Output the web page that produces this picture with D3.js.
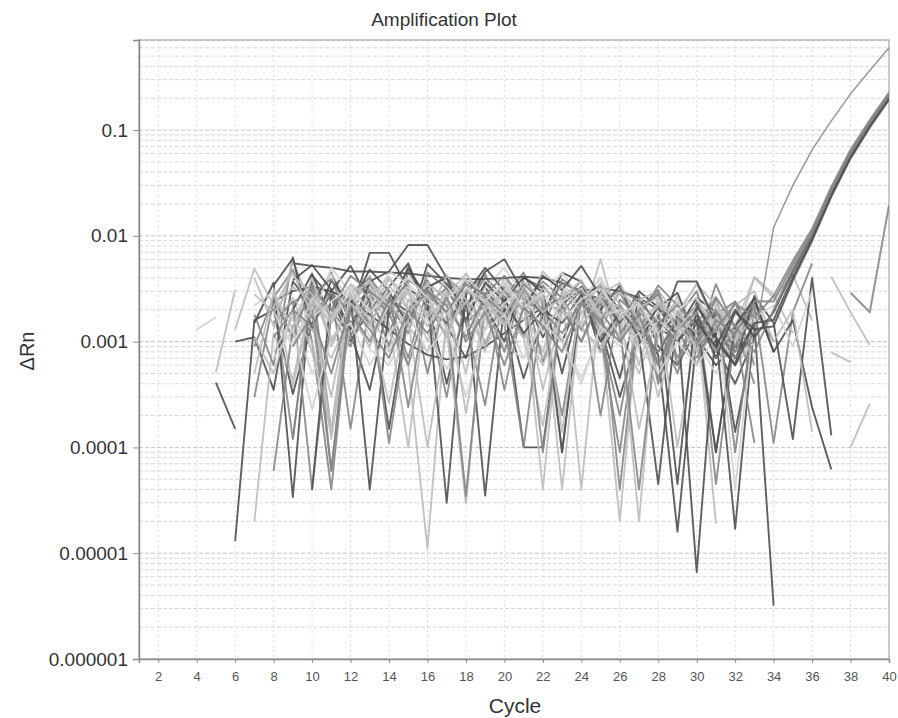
<!DOCTYPE html>
<html>
<head>
<meta charset="utf-8">
<script src="https://cdn.jsdelivr.net/npm/d3@7"></script>
<style>
body { margin: 0; background: #fff; }
text { font-family: Arial, "Liberation Sans", sans-serif; }
</style>
</head>
<body>
<div id="chart-area"></div>
<script>

// tick values / labels
const xTicks = [2, 4, 6, 8, 10, 12, 14, 16, 18, 20, 22, 24, 26, 28, 30, 32, 34, 36, 38, 40];
const yTicks = [1e-6, 1e-5, 1e-4, 1e-3, 1e-2, 1e-1];
const yTickLabels = ["0.000001", "0.00001", "0.0001", "0.001", "0.01", "0.1"];

// baseline (non amplified) wells: first cycle + ΔRn per cycle
const baselineStart = [6, 6, 7, 5, 4, 5, 6, 7, 7, 7, 7, 7, 7, 8, 9, 8, 8, 8, 8, 7, 8, 9, 8, 9, 10, 9, 8, 9, 9, 10, 10, 20, 24, 26, 28, 27, 29, 30, 31, 28, 37, 37, 38,
    7, 8, 8, 9, 8, 9, 8, 10, 9, 7];
const baselineDeltaRn = [
    [1.0e-3, 1.1e-3, 3.5e-4, 3.7e-3, 2.2e-3, 4.5e-3, 1.8e-3, 6.9e-3, 6.9e-3, 3.1e-3, 2.5e-3, 4.0e-4, 2.2e-3, 3.3e-3, 1.6e-3, 2.9e-3, 1.1e-3, 2.4e-3, 3.1e-3, 8.0e-4, 1.6e-3, 2.4e-3, 9.0e-4, 6.0e-4, 1.3e-3, 9.0e-4, 4.0e-4, 1.1e-3],
    [1.3e-5, 1.6e-3, 2.0e-3, 3.2e-4, 1.5e-3, 2.8e-3, 1.2e-3, 3.5e-4, 2.6e-3, 1.9e-3, 3.8e-3, 1.4e-3, 7.0e-4, 2.9e-3, 2.0e-3, 4.5e-4, 1.7e-3, 1.0e-3, 2.7e-3, 1.4e-3, 3.0e-4, 1.2e-3, 7.5e-4, 1.6e-5, 1.1e-3, 6.0e-4, 9.0e-4],
    [2.0e-5, 1.2e-3, 4.4e-4, 2.7e-3, 1.1e-3, 9.0e-4, 3.2e-3, 1.3e-3, 6.0e-4, 1.1e-5, 1.9e-3, 2.2e-3, 8.0e-4, 3.7e-3, 1.2e-3, 6.0e-4, 2.0e-3, 1.5e-3, 6.0e-3, 1.3e-3, 5.0e-4, 1.7e-3, 1.0e-3, 1.8e-3, 1.9e-5],
    [5.1e-4, 3.1e-3],
    [1.3e-3, 1.7e-3],
    [4.1e-4, 1.5e-4],
    [1.3e-3, 4.9e-3, 2.2e-3, 1.6e-3, 3.4e-3, 9.0e-4, 2.3e-3, 4.2e-3, 1.8e-3, 2.9e-3, 1.0e-3, 3.6e-3, 2.5e-3, 1.3e-3, 4.1e-3, 2.0e-3, 8.0e-4, 3.0e-3, 2.3e-3, 1.2e-3, 3.3e-3, 1.5e-3, 6.0e-4, 1.9e-3, 1.1e-3, 2.6e-3, 7.0e-4],
    [1.8e-3, 6.0e-4, 6.3e-3, 1.0e-3, 4.0e-5, 2.4e-3, 3.5e-3, 1.7e-3, 5.2e-3, 2.0e-3, 3.0e-4, 2.8e-3, 4.4e-3, 1.5e-3, 3.5e-3, 6.5e-4, 2.3e-3, 3.8e-3, 1.2e-3, 2.0e-4, 1.9e-3, 1.4e-3, 5.0e-4, 2.3e-3, 1.6e-3, 8.0e-4, 2.0e-3],
    [3.0e-4, 2.5e-3, 1.2e-4, 3.8e-3, 1.4e-4, 2.1e-3, 3.0e-3, 9.0e-4, 4.6e-3, 2.3e-3, 1.1e-3, 3.9e-3, 9.5e-4, 2.6e-3, 4.5e-3, 1.8e-3, 2.0e-4, 2.5e-3, 3.2e-3, 1.0e-3, 2.8e-3, 4.0e-4, 1.5e-3, 2.2e-3, 4.5e-5, 1.2e-3],
    [1.5e-3, 3.6e-3, 3.4e-5, 4.2e-3, 2.6e-3, 1.0e-3, 2.0e-3, 3.3e-3, 5.5e-3, 2.0e-3, 1.5e-3, 2.7e-3, 3.5e-5, 2.4e-3, 1.0e-4, 1.0e-4, 2.2e-3, 3.3e-3, 1.7e-3, 4.5e-4, 2.6e-3, 1.4e-3, 1.6e-3, 6.6e-6, 1.4e-3],
    [4.0e-3, 1.4e-3, 2.6e-3, 8.0e-4, 1.4e-4, 3.4e-3, 1.9e-3, 2.8e-3, 1.5e-3, 3.7e-3, 2.4e-3, 3.0e-5, 2.9e-3, 1.8e-3, 3.6e-3, 2.2e-3, 4.0e-5, 2.5e-3, 1.4e-3, 2.0e-5, 2.0e-3, 1.1e-3, 2.7e-3, 9.0e-4, 2.1e-3, 1.2e-3, 2.2e-3],
    [9.0e-4, 2.6e-3, 4.8e-3, 1.7e-3, 3.1e-3, 1.5e-4, 2.4e-3, 1.2e-3, 3.6e-3, 5.0e-4, 2.9e-3, 2.0e-3, 4.1e-3, 2.6e-3, 1.1e-3, 3.4e-3, 2.0e-3, 1.0e-3, 2.5e-3, 4.0e-5, 1.9e-3, 2.8e-3, 7.0e-4, 1.5e-3, 9.0e-4, 2.4e-3, 6.0e-4],
    [2.2e-3, 3.0e-3, 1.0e-3, 2.0e-3, 4.4e-3, 2.4e-3, 1.7e-3, 3.9e-3, 2.8e-3, 1.6e-3, 4.3e-3, 2.1e-3, 3.2e-3, 5.0e-3, 2.7e-3, 1.9e-3, 3.5e-3, 2.3e-3, 4.1e-3, 1.8e-3, 1.0e-3, 2.6e-3, 1.9e-3, 3.5e-3, 1.6e-3, 2.4e-3, 1.3e-3],
    [2.4e-3, 3.0e-3, 3.3e-3, 3.0e-3, 2.4e-3, 1.8e-3, 1.3e-3, 9.5e-4, 7.5e-4, 6.8e-4, 7.2e-4, 9.0e-4, 1.2e-3, 1.6e-3, 2.1e-3, 2.6e-3, 3.0e-3, 3.2e-3, 3.0e-3, 2.6e-3, 2.0e-3, 1.5e-3, 1.2e-3, 1.0e-3, 9.0e-4, 1.0e-3],
    [5.5e-3, 5.2e-3, 5.0e-3, 4.6e-3, 4.6e-3, 4.5e-3, 4.4e-3, 4.2e-3, 4.0e-3, 3.9e-3, 3.9e-3, 4.0e-3, 4.1e-3, 4.0e-3, 3.6e-3, 3.0e-3, 2.5e-3, 2.0e-3, 1.6e-3, 1.3e-3, 1.1e-3],
    [1.3e-3, 5.8e-3, 2.1e-3, 1.2e-4, 2.2e-3, 3.7e-3, 1.5e-3, 1.0e-4, 3.1e-3, 2.2e-3, 5.0e-4, 3.8e-3, 1.7e-3, 2.4e-3, 4.0e-5, 2.9e-3, 1.8e-3, 3.6e-3, 2.3e-3, 6.0e-4, 2.6e-3, 1.5e-3, 9.0e-4, 2.2e-3, 1.0e-3, 6.0e-4],
    [2.6e-3, 1.1e-3, 3.4e-3, 6.0e-5, 2.9e-3, 4.0e-3, 2.3e-3, 1.2e-3, 4.5e-3, 3.2e-3, 1.5e-3, 2.5e-4, 3.4e-3, 2.6e-3, 1.3e-3, 3.9e-3, 2.8e-3, 1.2e-3, 9.0e-5, 2.0e-3, 2.9e-3, 1.3e-3, 6.0e-4, 1.8e-3, 2.4e-3, 1.1e-3],
    [3.4e-3, 6.1e-3, 1.3e-3, 3.8e-3, 2.2e-3, 4.8e-3, 3.0e-3, 1.4e-3, 5.4e-3, 3.5e-3, 2.1e-3, 4.6e-3, 6.0e-3, 2.9e-3, 1.8e-3, 4.5e-3, 3.7e-3, 2.0e-3, 3.4e-3, 1.2e-3, 2.1e-3, 2.9e-3, 1.0e-3, 1.9e-3, 1.4e-3, 2.4e-3, 8.0e-4],
    [8.0e-4, 1.7e-3, 5.0e-4, 1.0e-3, 2.2e-3, 8.5e-4, 6.0e-4, 1.5e-3, 1.2e-3, 5.5e-4, 1.3e-3, 2.0e-3, 9.0e-4, 7.0e-4, 1.6e-3, 1.1e-3, 4.5e-4, 1.2e-3, 1.8e-3, 8.0e-4, 6.0e-4, 1.3e-3, 1.0e-3, 5.0e-4, 1.2e-3, 7.0e-4],
    [1.1e-3, 5.0e-4, 1.9e-3, 1.3e-3, 7.0e-4, 1.8e-3, 9.0e-4, 2.3e-3, 1.4e-3, 8.0e-4, 2.5e-3, 1.6e-3, 1.0e-3, 2.2e-3, 1.2e-3, 7.0e-4, 2.0e-3, 1.3e-3, 9.0e-4, 1.8e-3, 1.1e-3, 6.0e-4, 1.5e-3, 9.0e-4, 1.4e-3, 6.5e-4, 1.1e-3],
    [1.5e-3, 2.4e-3, 4.0e-5, 1.8e-3, 9.0e-4, 2.7e-3, 1.9e-3, 6.0e-4, 2.3e-3, 3.2e-3, 1.5e-3, 2.2e-3, 8.0e-4, 3.5e-3, 2.4e-3, 9.0e-5, 2.7e-3, 1.9e-3, 1.1e-3, 2.6e-3, 4.5e-4, 1.8e-3, 9.0e-4, 3.5e-3, 1.3e-3, 2.0e-3, 1.0e-3],
    [2.0e-3, 4.4e-3, 1.6e-3, 2.7e-3, 4.0e-5, 2.1e-3, 4.9e-3, 2.6e-3, 3.0e-5, 3.1e-3, 2.2e-3, 1.0e-3, 4.0e-3, 3.2e-3, 9.0e-5, 2.9e-3, 1.6e-3, 2.2e-3, 1.1e-3, 4.5e-5, 1.9e-3, 8.0e-4, 1.2e-3, 1.7e-5, 1.5e-3],
    [3.2e-3, 3.8e-4, 2.5e-3, 1.4e-4, 3.0e-3, 2.0e-3, 3.9e-3, 2.4e-3, 3.5e-3, 1.3e-3, 3.0e-5, 2.6e-3, 3.4e-3, 1.9e-3, 4.6e-3, 3.0e-3, 4.0e-5, 2.8e-3, 1.5e-3, 2.0e-5, 2.2e-3, 1.0e-4, 1.3e-3, 2.4e-3, 1.0e-3, 1.6e-3],
    [1.2e-4, 3.3e-3, 2.0e-3, 1.1e-3, 3.6e-3, 2.3e-3, 7.0e-4, 3.2e-3, 4.2e-3, 2.0e-3, 2.8e-3, 3.5e-4, 2.3e-3, 3.7e-3, 2.6e-3, 1.3e-3, 3.0e-3, 1.6e-3, 2.5e-3, 6.0e-4, 1.7e-3, 3.0e-3, 8.0e-4, 1.4e-3, 4.0e-4],
    [4.0e-5, 3.0e-3, 5.2e-3, 2.4e-3, 1.5e-4, 2.0e-3, 3.3e-3, 4.0e-3, 1.6e-3, 3.6e-3, 2.4e-3, 4.1e-3, 2.9e-3, 5.0e-4, 2.7e-3, 3.4e-3, 2.0e-3, 9.0e-4, 2.3e-3, 1.3e-3, 2.6e-3, 1.9e-3, 1.4e-4, 1.2e-3],
    [2.6e-3, 1.6e-3, 5.0e-3, 2.9e-3, 2.0e-3, 4.6e-3, 3.5e-3, 2.3e-3, 1.6e-3, 4.4e-3, 2.6e-3, 3.5e-3, 1.9e-3, 2.8e-3, 4.5e-3, 2.5e-3, 3.9e-3, 1.3e-3, 2.4e-3, 3.0e-3, 1.2e-3, 1.8e-3, 2.7e-3, 1.4e-3, 9.0e-4],
    [6.0e-5, 1.4e-3, 2.8e-3, 3.9e-3, 1.5e-3, 2.5e-3, 1.1e-4, 1.7e-3, 3.1e-3, 1.8e-3, 3.8e-3, 2.7e-3, 1.5e-3, 1.0e-4, 2.4e-3, 1.9e-3, 3.1e-3, 2.0e-4, 2.5e-3, 1.7e-3, 3.4e-3, 2.2e-3, 1.5e-3, 2.6e-3, 9.0e-5, 2.0e-3],
    [1.6e-3, 1.0e-3, 1.4e-4, 1.4e-3, 2.0e-3, 8.0e-4, 1.6e-3, 1.0e-4, 1.3e-3, 2.4e-3, 9.0e-4, 1.7e-3, 1.1e-3, 1.6e-4, 2.0e-3, 1.4e-3, 8.0e-4, 1.9e-3, 1.5e-4, 1.1e-3, 1.6e-3, 7.0e-4, 1.3e-3, 6.0e-4, 1.0e-3],
    [3.8e-3, 5.3e-3, 3.1e-3, 1.3e-3, 3.7e-3, 4.6e-3, 8.2e-3, 8.2e-3, 4.0e-3, 2.8e-3, 5.0e-3, 3.0e-3, 2.0e-3, 4.2e-3, 3.1e-3, 5.2e-3, 2.7e-3, 1.5e-3, 3.0e-3, 2.1e-3, 1.1e-3],
    [2.0e-3, 6.0e-5, 2.3e-3, 1.5e-3, 3.0e-3, 2.4e-4, 2.7e-3, 1.9e-3, 3.5e-5, 2.4e-3, 1.6e-3, 3.3e-3, 9.0e-5, 2.2e-3, 1.0e-3, 2.7e-3, 1.4e-3, 4.0e-5, 1.6e-3, 1.0e-3, 2.0e-3, 9.0e-5, 1.3e-3, 1.1e-4],
    [3.2e-3, 1.8e-3, 2.5e-3, 3.8e-3, 2.1e-3, 3.0e-3, 1.8e-3, 4.2e-3, 2.5e-3, 1.6e-3, 3.1e-3, 2.0e-3, 2.7e-3, 1.4e-4, 2.8e-3, 1.6e-3, 2.3e-3, 1.2e-3, 1.8e-3, 2.2e-3, 8.0e-4, 1.6e-3, 1.1e-3, 2.0e-3],
    [2.5e-3, 1.2e-3, 2.0e-3, 1.5e-3, 2.8e-3, 1.0e-3, 1.9e-3, 1.3e-3, 8.0e-4, 1.6e-3, 1.0e-3, 1.4e-3, 7.0e-4, 1.5e-3, 3.2e-6],
    [2.1e-3, 3.5e-3, 1.6e-3, 2.5e-3, 3.0e-3, 1.8e-3, 3.5e-3, 2.2e-3, 1.4e-3, 4.0e-3, 2.6e-3, 4.3e-3, 1.6e-3],
    [1.2e-3, 2.0e-3, 3.1e-3, 6.0e-4, 2.4e-3, 1.5e-3, 9.0e-4, 2.2e-3, 1.1e-4, 1.9e-3, 5.5e-3],
    [1.8e-3, 4.5e-5, 2.3e-3, 1.0e-3, 6.0e-4, 2.7e-3, 1.5e-3, 1.2e-4, 4.0e-3, 1.3e-4],
    [2.0e-3, 1.3e-3, 2.4e-3, 8.0e-4, 2.2e-3, 1.0e-3, 4.1e-3, 2.8e-3, 1.2e-3],
    [1.0e-3, 1.6e-3, 9.0e-5, 1.4e-3, 2.6e-3, 8.0e-4, 1.6e-3, 2.4e-4, 6.2e-5],
    [3.5e-3, 1.4e-3, 2.2e-3, 3.0e-3, 1.0e-3, 2.0e-3, 1.4e-4],
    [2.4e-3, 4.0e-5, 1.7e-3, 2.2e-3, 9.0e-4, 3.0e-3],
    [1.2e-3, 3.7e-3, 3.7e-3, 1.5e-3],
    [4.1e-3, 1.9e-3, 9.3e-4],
    [7.9e-4, 6.4e-4],
    [1.0e-4, 2.6e-4],
    [2.8e-3, 1.9e-3, 3.3e-3, 2.4e-3, 1.5e-3, 2.9e-3, 3.6e-3, 2.2e-3, 3.0e-3, 1.7e-3, 2.6e-3, 3.4e-3, 2.0e-3, 2.9e-3, 1.6e-3, 3.2e-3, 2.4e-3, 1.4e-3, 2.7e-3, 2.1e-3, 1.3e-3, 2.2e-3, 1.6e-3, 1.0e-3, 1.7e-3, 1.2e-3],
    [1.9e-3, 9.0e-4, 2.6e-3, 1.6e-3, 3.1e-3, 1.1e-3, 2.2e-3, 3.3e-3, 1.4e-3, 2.5e-3, 3.9e-3, 1.5e-3, 2.3e-3, 3.1e-3, 1.2e-3, 2.4e-3, 3.2e-3, 1.7e-3, 2.0e-3, 9.0e-4, 1.6e-3, 1.1e-3, 1.9e-3, 8.0e-4, 1.3e-3],
    [1.1e-3, 2.0e-3, 1.4e-3, 2.9e-3, 1.9e-3, 1.0e-3, 2.5e-3, 1.7e-3, 3.0e-3, 2.2e-3, 1.1e-3, 2.7e-3, 1.8e-3, 3.1e-3, 2.0e-3, 1.2e-3, 2.4e-3, 1.6e-3, 2.9e-3, 1.4e-3, 8.0e-4, 1.7e-3, 1.0e-3, 1.5e-3, 7.0e-4, 1.2e-3],
    [4.2e-3, 2.8e-3, 1.7e-3, 3.5e-3, 2.6e-3, 4.1e-3, 2.1e-3, 3.4e-3, 2.7e-3, 4.4e-3, 2.3e-3, 1.8e-3, 3.7e-3, 2.5e-3, 3.3e-3, 1.9e-3, 2.8e-3, 3.6e-3, 1.5e-3, 2.3e-3, 1.8e-3, 1.2e-3, 2.0e-3, 1.4e-3],
    [7.0e-4, 1.3e-3, 2.3e-4, 1.1e-3, 1.5e-3, 6.0e-4, 1.2e-3, 1.9e-3, 8.0e-4, 1.4e-3, 3.0e-4, 1.3e-3, 1.8e-3, 7.0e-4, 1.5e-3, 1.0e-3, 4.0e-4, 1.4e-3, 9.0e-4, 1.2e-3, 5.0e-4, 1.0e-3, 6.0e-4, 1.1e-3],
    [2.3e-3, 3.2e-3, 2.0e-3, 4.2e-3, 3.0e-3, 2.1e-3, 3.8e-3, 2.9e-3, 1.9e-3, 3.5e-3, 2.8e-3, 4.2e-3, 2.5e-3, 1.9e-3, 3.6e-3, 2.9e-3, 2.2e-3, 3.1e-3, 2.4e-3, 1.5e-3, 2.2e-3, 1.4e-3, 1.9e-3, 1.1e-3],
    [2.1e-3, 4.5e-3, 1.8e-3, 3.0e-4, 2.7e-3, 1.6e-3, 2.6e-4, 2.5e-3, 1.4e-3, 3.0e-3, 2.1e-4, 2.2e-3, 1.5e-3, 2.8e-3, 3.5e-4, 2.0e-3, 1.4e-3, 2.6e-3, 1.1e-3, 1.7e-3, 3.0e-4, 1.4e-3, 9.0e-4, 1.6e-3],
    [1.7e-3, 2.4e-3, 3.3e-3, 1.9e-3, 2.8e-3, 4.0e-3, 2.6e-3, 1.8e-3, 3.2e-3, 2.4e-3, 3.7e-3, 2.1e-3, 2.9e-3, 1.6e-3, 2.5e-3, 3.2e-3, 1.8e-3, 2.3e-3, 1.2e-3, 2.0e-3, 2.6e-3, 1.3e-3, 1.8e-3],
    [9.0e-4, 1.8e-3, 5.0e-4, 2.2e-3, 1.3e-3, 7.0e-4, 2.0e-3, 1.2e-3, 2.6e-3, 1.0e-3, 1.9e-3, 6.0e-4, 2.1e-3, 1.4e-3, 8.0e-4, 2.3e-3, 1.5e-3, 1.0e-3, 1.8e-3, 6.0e-4, 1.3e-3, 1.9e-3, 8.0e-4, 1.2e-3],
    [5.0e-4, 2.9e-3, 1.3e-3, 4.0e-3, 1.0e-3, 2.3e-3, 1.4e-3, 3.4e-3, 2.0e-3, 2.7e-3, 1.1e-3, 3.0e-3, 2.5e-3, 1.4e-3, 3.3e-3, 1.9e-3, 2.6e-3, 3.8e-3, 1.7e-3, 2.9e-3, 2.1e-3, 2.6e-3, 1.3e-3, 2.2e-3, 1.5e-3, 1.0e-3, 1.8e-3]
];

// amplified wells (rise after cycle 33)
const ampStart = [30, 30, 30, 30, 30, 30, 30, 38];
const ampDeltaRn = [
    [1.2e-3, 2.0e-3, 8.0e-4, 1.0e-3, 1.2e-2, 3.0e-2, 6.5e-2, 1.22e-1, 2.2e-1, 3.65e-1, 6.0e-1],
    [1.5e-3, 9.0e-4, 2.0e-3, 1.1e-3, 1.9e-3, 4.6e-3, 1.02e-2, 2.6e-2, 5.9e-2, 1.15e-1, 2.10e-1],
    [7.0e-4, 1.6e-3, 1.2e-3, 2.4e-3, 2.4e-3, 5.4e-3, 1.12e-2, 2.8e-2, 6.3e-2, 1.21e-1, 2.2e-1],
    [2.2e-3, 1.1e-3, 6.0e-4, 1.5e-3, 1.6e-3, 4.1e-3, 9.4e-3, 2.45e-2, 5.6e-2, 1.1e-1, 2.0e-1],
    [1.0e-3, 2.6e-3, 1.4e-3, 8.0e-4, 2.0e-3, 5.0e-3, 1.05e-2, 2.65e-2, 6.0e-2, 1.16e-1, 2.12e-1],
    [1.8e-3, 7.0e-4, 1.9e-3, 1.3e-3, 1.4e-3, 3.8e-3, 9.0e-3, 2.35e-2, 5.4e-2, 1.06e-1, 1.94e-1],
    [9.0e-4, 1.3e-3, 2.3e-3, 1.7e-3, 2.7e-3, 5.8e-3, 1.16e-2, 2.9e-2, 6.5e-2, 1.24e-1, 2.26e-1],
    [2.9e-3, 1.9e-3, 1.95e-2]
];

// line shades (style only)
const shade = {dark: "#4f4f4f", mid: "#868686", light: "#bdbdbd", pale: "#d3d3d3"};
const baselineShade = ["dark", "dark", "light", "light", "pale", "dark", "light", "mid", "mid", "dark",
    "light", "mid", "pale", "dark", "dark", "light", "mid", "dark", "pale", "light",
    "mid", "dark", "light", "mid", "dark", "pale", "mid", "light", "dark", "mid",
    "light", "dark", "light", "mid", "dark", "light", "dark", "light", "pale", "dark",
    "light", "light", "light",
    "light", "pale", "mid", "light", "pale", "mid", "light", "pale", "mid", "light"];
const ampShade = ["mid", "dark", "mid", "dark", "mid", "dark", "mid", "mid"];

const width = 898, height = 718;
const margin = {top: 40, right: 9, bottom: 59, left: 139};

const svg = d3.select('#chart-area')
    .append('svg')
    .attr('width', width)
    .attr('height', height);

const x = d3.scaleLinear()
    .domain([1, 40])
    .range([margin.left, width - margin.right]);

const y = d3.scaleLog()
    .domain([1e-6, 0.71])
    .range([height - margin.bottom, margin.top]);

const defs = svg.append("defs");
defs.append("clipPath").attr("id", "plot-clip")
    .append("rect")
    .attr("x", margin.left)
    .attr("y", margin.top)
    .attr("width", width - margin.left - margin.right)
    .attr("height", height - margin.top - margin.bottom);
defs.append("filter").attr("id", "soft")
    .append("feGaussianBlur").attr("stdDeviation", 0.55);

// grid
const grid = svg.append("g");
grid.selectAll("line.h")
    .data(y.ticks())
    .join("line")
    .attr("class", "h")
    .attr("x1", margin.left).attr("x2", width - margin.right)
    .attr("y1", d => y(d)).attr("y2", d => y(d))
    .attr("stroke", d => yTicks.includes(d) ? "#c4c4c4" : "#d9d9d9")
    .attr("stroke-dasharray", "4,2");

grid.selectAll("line.v")
    .data(xTicks)
    .join("line")
    .attr("class", "v")
    .attr("x1", d => x(d)).attr("x2", d => x(d))
    .attr("y1", margin.top).attr("y2", height - margin.bottom)
    .attr("stroke", "#dcdcdc")
    .attr("stroke-dasharray", "2,3");

// plot frame
svg.append("rect")
    .attr("x", margin.left).attr("y", margin.top)
    .attr("width", width - margin.left - margin.right)
    .attr("height", height - margin.top - margin.bottom)
    .attr("fill", "none")
    .attr("stroke", "#b8b8b8")
    .attr("stroke-width", 1.5);

const line = d3.line()
    .defined(d => d.v != null && d.v > 0)
    .x(d => x(d.c))
    .y(d => y(d.v));

const toPoints = (start, values) => values.map((v, i) => ({c: start + i, v: v}));

const traces = svg.append("g")
    .attr("clip-path", "url(#plot-clip)")
    .append("g")
    .attr("filter", "url(#soft)");

traces.selectAll("path.base")
    .data(baselineDeltaRn)
    .join("path")
    .attr("class", "base")
    .attr("d", (d, i) => line(toPoints(baselineStart[i], d)))
    .attr("fill", "none")
    .attr("stroke", (d, i) => shade[baselineShade[i]])
    .attr("stroke-width", 1.9)
    .attr("stroke-opacity", 0.9)
    .attr("stroke-linejoin", "round");

traces.selectAll("path.amp")
    .data(ampDeltaRn)
    .join("path")
    .attr("class", "amp")
    .attr("d", (d, i) => line(toPoints(ampStart[i], d)))
    .attr("fill", "none")
    .attr("stroke", (d, i) => shade[ampShade[i]])
    .attr("stroke-width", (d, i) => i === 0 ? 1.5 : 2.1)
    .attr("stroke-opacity", 0.85)
    .attr("stroke-linejoin", "round");

// axes
const yAxis = svg.append("g")
    .attr("transform", "translate(" + margin.left + ",0)")
    .call(d3.axisLeft(y)
        .tickValues(yTicks)
        .tickFormat((d, i) => yTickLabels[i])
        .tickSize(6)
        .tickPadding(5));

const xAxis = svg.append("g")
    .attr("transform", "translate(0," + (height - margin.bottom) + ")")
    .call(d3.axisBottom(x)
        .tickValues(xTicks)
        .tickSize(4)
        .tickPadding(9));

[yAxis, xAxis].forEach(ax => {
    ax.select(".domain").attr("stroke", "#8a8a8a").attr("stroke-width", 1.5);
    ax.selectAll(".tick line").attr("stroke", "#8a8a8a");
    ax.selectAll("text").attr("fill", "#333").style("font-family", "Arial, 'Liberation Sans', sans-serif");
});
yAxis.selectAll("text").style("font-size", "19px");
xAxis.selectAll("text").style("font-size", "13px").attr("fill", "#555");

// titles
svg.append("text")
    .attr("x", 444).attr("y", 26)
    .attr("text-anchor", "middle")
    .style("font-size", "19px")
    .attr("fill", "#333")
    .text("Amplification Plot");

svg.append("text")
    .attr("x", 515).attr("y", 713)
    .attr("text-anchor", "middle")
    .style("font-size", "21px")
    .attr("fill", "#333")
    .text("Cycle");

svg.append("text")
    .attr("transform", "translate(34,351) rotate(-90)")
    .attr("text-anchor", "middle")
    .style("font-size", "20px")
    .attr("fill", "#333")
    .text("ΔRn");

</script>
</body>
</html>
